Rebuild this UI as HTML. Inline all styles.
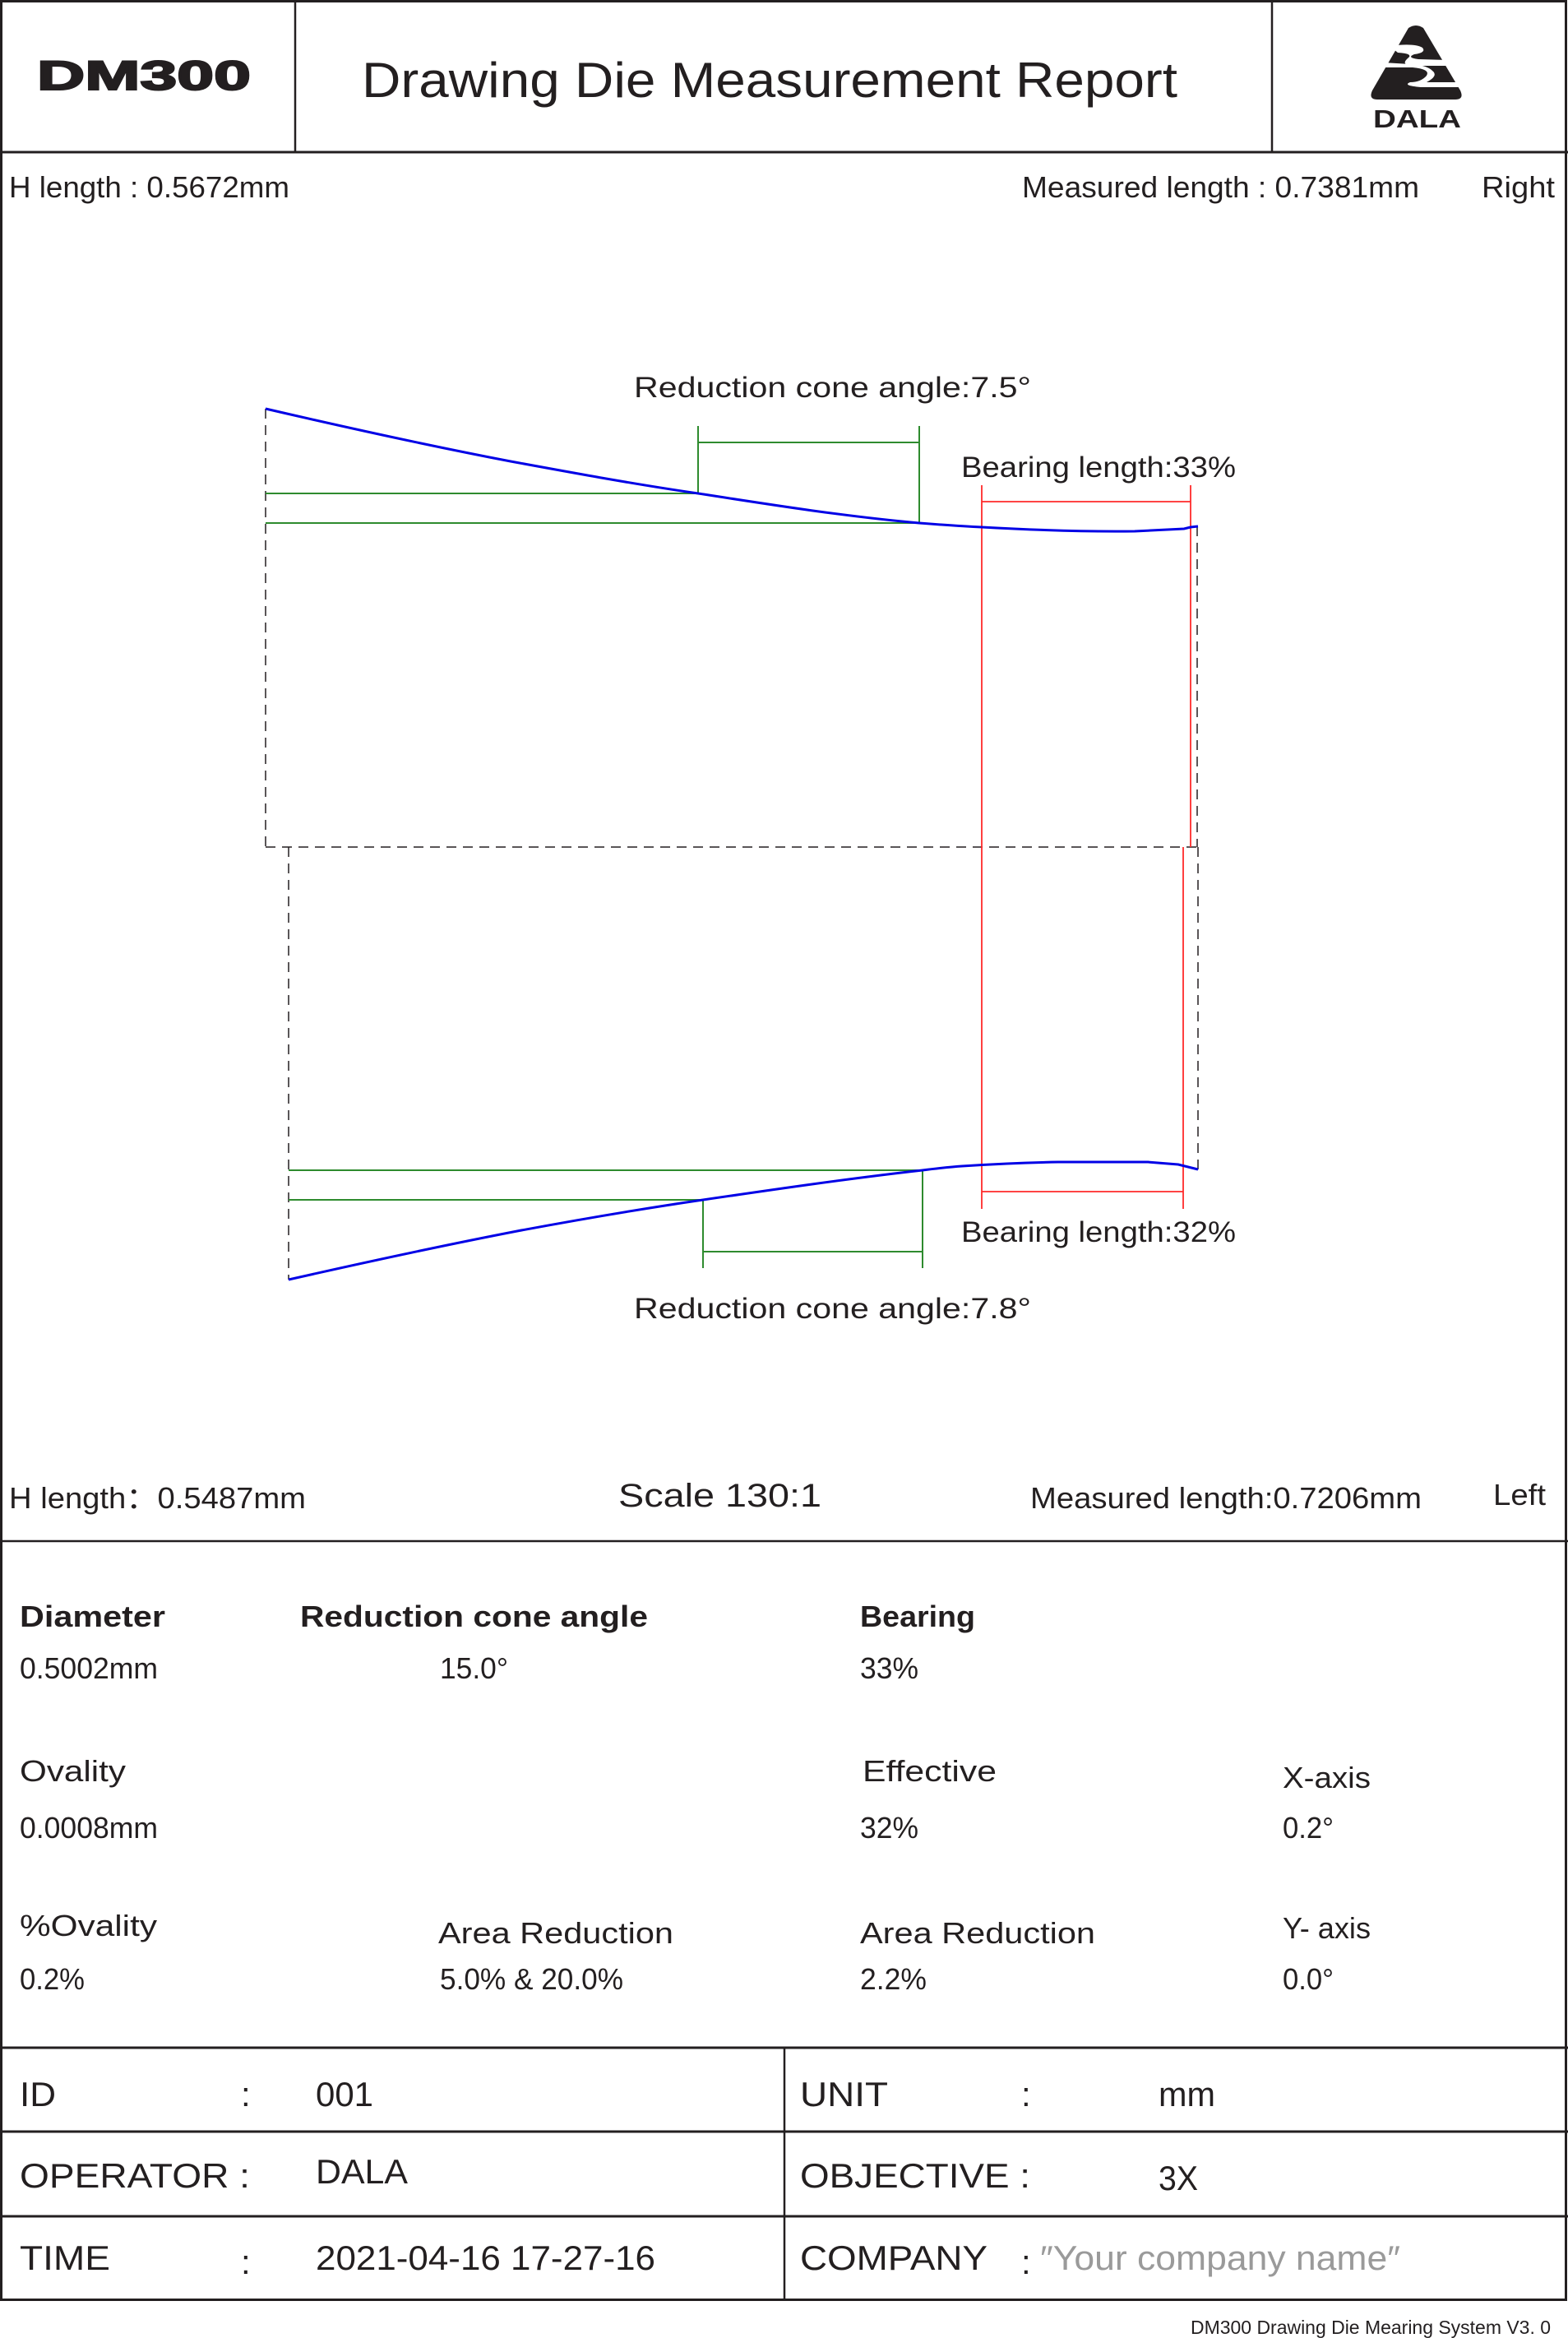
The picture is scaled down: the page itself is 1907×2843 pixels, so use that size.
<!DOCTYPE html>
<html><head><meta charset="utf-8"><style>
html,body{margin:0;padding:0;background:#fff}
svg{display:block}
text{font-family:"Liberation Sans",Arial,sans-serif;fill:#231f20}
</style></head><body>
<svg width="1907" height="2843" viewBox="0 0 1907 2843" xmlns="http://www.w3.org/2000/svg">
<rect x="1.5" y="1.5" width="1903" height="2795" fill="none" stroke="#231f20" stroke-width="3"/>
<line x1="0" y1="185" x2="1907" y2="185" stroke="#231f20" stroke-width="3"/>
<line x1="359" y1="0" x2="359" y2="185" stroke="#231f20" stroke-width="2.5"/>
<line x1="1547" y1="0" x2="1547" y2="185" stroke="#231f20" stroke-width="2.5"/>
<line x1="0" y1="1874" x2="1907" y2="1874" stroke="#231f20" stroke-width="2.5"/>
<line x1="0" y1="2490" x2="1907" y2="2490" stroke="#231f20" stroke-width="3"/>
<line x1="0" y1="2592" x2="1907" y2="2592" stroke="#231f20" stroke-width="3"/>
<line x1="0" y1="2695" x2="1907" y2="2695" stroke="#231f20" stroke-width="3"/>
<line x1="954" y1="2490" x2="954" y2="2796" stroke="#231f20" stroke-width="2.5"/>

<text x="45" y="109" font-size="50" font-weight="bold" textLength="260" lengthAdjust="spacingAndGlyphs" stroke="#231f20" stroke-width="2">DM300</text>
<text x="440" y="118" font-size="60" textLength="992" lengthAdjust="spacingAndGlyphs">Drawing Die Measurement Report</text>
<path d="M1713 34 Q1722 28 1731 34 L1776 110 Q1781 121 1770 121 L1675 121 Q1664 121 1669 110 Z" fill="#231f20"/>
<path d="M1690 56 Q1720 52 1730 58 Q1735 64 1720 66 Q1710 70 1725 72 L1760 73 L1762 80 L1722 80 Q1702 80 1712 71 Q1720 65 1700 64 Z" fill="#fff"/>
<path d="M1676 82 L1718 82 Q1740 84 1735 92 Q1728 100 1715 100 Q1705 104 1728 106 L1774 106 L1772 100 L1735 100 Q1750 92 1742 86 Q1735 79 1715 78 L1682 76 Z" fill="#fff"/>
<text x="1670" y="155" font-size="31" font-weight="bold" textLength="107" lengthAdjust="spacingAndGlyphs">DALA</text>

<text x="11" y="240" font-size="36" textLength="341" lengthAdjust="spacingAndGlyphs">H length : 0.5672mm</text>
<text x="1243" y="240" font-size="36" textLength="483" lengthAdjust="spacingAndGlyphs">Measured length : 0.7381mm</text>
<text x="1802" y="240" font-size="36" textLength="89" lengthAdjust="spacingAndGlyphs">Right</text>

<g stroke="#231f20" stroke-width="1.5" stroke-dasharray="12,8" fill="none">
<line x1="323" y1="497" x2="323" y2="1030"/>
<line x1="1456" y1="640" x2="1456" y2="1030"/>
<line x1="323" y1="1030" x2="1457" y2="1030"/>
<line x1="351" y1="1030" x2="351" y2="1556"/>
<line x1="1457" y1="1030" x2="1457" y2="1422"/>
</g>
<g stroke="#2e8b2e" stroke-width="2" fill="none">
<line x1="323" y1="600" x2="849" y2="600"/>
<line x1="323" y1="636" x2="1118" y2="636"/>
<line x1="849" y1="518" x2="849" y2="600"/>
<line x1="1118" y1="518" x2="1118" y2="636"/>
<line x1="849" y1="538" x2="1118" y2="538"/>
<line x1="351" y1="1423" x2="1122" y2="1423"/>
<line x1="351" y1="1459" x2="855" y2="1459"/>
<line x1="855" y1="1459" x2="855" y2="1542"/>
<line x1="1122" y1="1423" x2="1122" y2="1542"/>
<line x1="855" y1="1522" x2="1122" y2="1522"/>
</g>
<g stroke="#ff2a2a" stroke-width="1.8" fill="none">
<line x1="1194" y1="590" x2="1194" y2="1470"/>
<line x1="1448" y1="590" x2="1448" y2="1030"/>
<line x1="1194" y1="610" x2="1448" y2="610"/>
<line x1="1439" y1="1030" x2="1439" y2="1470"/>
<line x1="1194" y1="1449" x2="1439" y2="1449"/>
</g>
<path d="M323 497 C422 520 522 542 621 561 C697 575 773 589 849 600 C939 614 1028 628 1118 636 C1143 638 1169 640 1194 641 Q1300 647 1380 646 L1440 643 L1448 641 L1457 640" fill="none" stroke="#0000e6" stroke-width="3"/>
<path d="M351 1556 C444 1535 536 1515 629 1497 C704 1483 780 1470 855 1459 C944 1446 1033 1433 1122 1423 C1138 1421 1154 1419 1170 1418 Q1230 1414 1287 1413 L1396 1413 L1433 1416 L1457 1422" fill="none" stroke="#0000e6" stroke-width="3"/>

<text x="771" y="483" font-size="35" textLength="483" lengthAdjust="spacingAndGlyphs">Reduction cone angle:7.5°</text>
<text x="1169" y="580" font-size="35" textLength="334" lengthAdjust="spacingAndGlyphs">Bearing length:33%</text>
<text x="1169" y="1510" font-size="35" textLength="334" lengthAdjust="spacingAndGlyphs">Bearing length:32%</text>
<text x="771" y="1603" font-size="35" textLength="483" lengthAdjust="spacingAndGlyphs">Reduction cone angle:7.8°</text>

<text x="11" y="1834" font-size="36" textLength="361" lengthAdjust="spacingAndGlyphs">H length：0.5487mm</text>
<text x="752" y="1832" font-size="40" textLength="247" lengthAdjust="spacingAndGlyphs">Scale 130:1</text>
<text x="1253" y="1834" font-size="36" textLength="476" lengthAdjust="spacingAndGlyphs">Measured length:0.7206mm</text>
<text x="1816" y="1830" font-size="36" textLength="64" lengthAdjust="spacingAndGlyphs">Left</text>

<g font-size="36">
<text x="24" y="1978" font-weight="bold" textLength="177" lengthAdjust="spacingAndGlyphs">Diameter</text>
<text x="365" y="1978" font-weight="bold" textLength="423" lengthAdjust="spacingAndGlyphs">Reduction cone angle</text>
<text x="1046" y="1978" font-weight="bold" textLength="140" lengthAdjust="spacingAndGlyphs">Bearing</text>
<text x="24" y="2041" textLength="168" lengthAdjust="spacingAndGlyphs">0.5002mm</text>
<text x="535" y="2041" textLength="83" lengthAdjust="spacingAndGlyphs">15.0°</text>
<text x="1046" y="2041" textLength="71" lengthAdjust="spacingAndGlyphs">33%</text>
<text x="24" y="2166" textLength="129" lengthAdjust="spacingAndGlyphs">Ovality</text>
<text x="1049" y="2166" textLength="163" lengthAdjust="spacingAndGlyphs">Effective</text>
<text x="1560" y="2174" textLength="107" lengthAdjust="spacingAndGlyphs">X-axis</text>
<text x="24" y="2235" textLength="168" lengthAdjust="spacingAndGlyphs">0.0008mm</text>
<text x="1046" y="2235" textLength="71" lengthAdjust="spacingAndGlyphs">32%</text>
<text x="1560" y="2235" textLength="62" lengthAdjust="spacingAndGlyphs">0.2°</text>
<text x="24" y="2354" textLength="167" lengthAdjust="spacingAndGlyphs">%Ovality</text>
<text x="533" y="2363" textLength="286" lengthAdjust="spacingAndGlyphs">Area Reduction</text>
<text x="1046" y="2363" textLength="286" lengthAdjust="spacingAndGlyphs">Area Reduction</text>
<text x="1560" y="2357" textLength="107" lengthAdjust="spacingAndGlyphs">Y- axis</text>
<text x="24" y="2419" textLength="79" lengthAdjust="spacingAndGlyphs">0.2%</text>
<text x="535" y="2419" textLength="223" lengthAdjust="spacingAndGlyphs">5.0% &amp; 20.0%</text>
<text x="1046" y="2419" textLength="81" lengthAdjust="spacingAndGlyphs">2.2%</text>
<text x="1560" y="2419" textLength="62" lengthAdjust="spacingAndGlyphs">0.0°</text>
</g>

<g font-size="42">
<text x="24" y="2561" textLength="44" lengthAdjust="spacingAndGlyphs">ID</text>
<text x="293" y="2561">:</text>
<text x="384" y="2561" textLength="70" lengthAdjust="spacingAndGlyphs">001</text>
<text x="973" y="2561" textLength="107" lengthAdjust="spacingAndGlyphs">UNIT</text>
<text x="1242" y="2561">:</text>
<text x="1409" y="2561" textLength="69" lengthAdjust="spacingAndGlyphs">mm</text>
<text x="24" y="2660" textLength="280" lengthAdjust="spacingAndGlyphs">OPERATOR :</text>
<text x="384" y="2655" textLength="112" lengthAdjust="spacingAndGlyphs">DALA</text>
<text x="973" y="2660" textLength="280" lengthAdjust="spacingAndGlyphs">OBJECTIVE :</text>
<text x="1409" y="2663" textLength="48" lengthAdjust="spacingAndGlyphs">3X</text>
<text x="24" y="2760" textLength="110" lengthAdjust="spacingAndGlyphs">TIME</text>
<text x="293" y="2765">:</text>
<text x="384" y="2760" textLength="413" lengthAdjust="spacingAndGlyphs">2021-04-16 17-27-16</text>
<text x="973" y="2760" textLength="228" lengthAdjust="spacingAndGlyphs">COMPANY</text>
<text x="1242" y="2765">:</text>
<text x="1265" y="2760" style="fill:#9a9a9a" textLength="438" lengthAdjust="spacingAndGlyphs">″Your  company  name″</text>
</g>
<text x="1448" y="2838" font-size="23" textLength="438" lengthAdjust="spacingAndGlyphs">DM300 Drawing Die Mearing System  V3. 0</text>
</svg>
</body></html>
